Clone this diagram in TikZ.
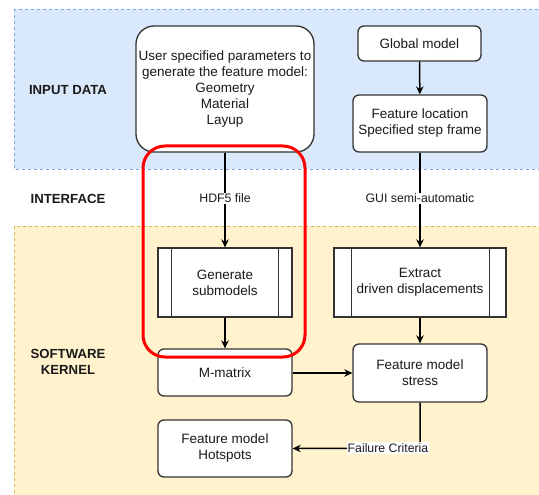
\documentclass[tikz,border=0pt]{standalone}
\usepackage{fontspec}
\setmainfont{Liberation Sans}
\usetikzlibrary{arrows.meta}
\definecolor{bluefill}{HTML}{DAE8FC}
\definecolor{blueline}{HTML}{7EA6E0}
\definecolor{yellowfill}{HTML}{FFF2CC}
\definecolor{yellowline}{HTML}{D6B656}
\definecolor{ink}{HTML}{1A1A1A}
\definecolor{boxline}{HTML}{333333}
\tikzset{
  box/.style={draw=boxline, fill=white, line width=1.3pt, rounded corners=6pt,
    align=center, inner sep=0pt, text=ink,
    font=\fontsize{13.5}{16}\selectfont},
  procbox/.style={box, rounded corners=0pt},
  flow/.style={draw=black, line width=1.5pt, -{Stealth[length=8pt,width=7.5pt]}},
  edgelabel/.style={fill=white, inner sep=1pt, text=ink, font=\fontsize{12.3}{14}\selectfont},
  section/.style={align=center, text=ink, font=\bfseries\fontsize{13.2}{16}\selectfont},
}
\begin{document}
\begin{tikzpicture}[x=1pt, y=-1pt]
\useasboundingbox (0,0) rectangle (539,495);
\begin{scope}
\clip (0,0) rectangle (539,495);
% swimlane backgrounds
\draw[fill=bluefill, draw=blueline, dashed, line width=0.8pt] (14,9) rectangle (560,169);
\draw[fill=yellowfill, draw=yellowline, dashed, line width=0.8pt] (14,226) rectangle (560,520);
\end{scope}

% lane titles
\node[section] (lin) at (68,90) {INPUT DATA};
\node[section] (lif) at (68,199) {INTERFACE};
\node[section] (lsk) at (68,362) {SOFTWARE\\KERNEL};

% nodes
\node[box, rounded corners=18pt, minimum width=178pt, minimum height=126pt] (user) at (225,89)
  {User specified parameters to\\generate the feature model:\\Geometry\\Material\\Layup};
\node[box, minimum width=123pt, minimum height=35pt] (global) at (419.5,43.5) {Global model};
\node[box, minimum width=134pt, minimum height=57pt] (floc) at (420,123.5) {Feature location\\Specified step frame};
\node[procbox, minimum width=134pt, minimum height=69pt] (gen) at (225,282.5) {Generate\\submodels};
\node[procbox, minimum width=172pt, minimum height=69pt] (extr) at (420,282.5) {Extract\\driven displacements};
\node[box, minimum width=134pt, minimum height=47pt] (mmat) at (225,372.5) {M-matrix};
\node[box, minimum width=134pt, minimum height=58pt] (stress) at (420,373) {Feature model\\stress};
\node[box, minimum width=134pt, minimum height=57pt] (hot) at (225,448.5) {Feature model\\Hotspots};

% side bars of the process boxes
\draw[boxline, line width=1.3pt] ([xshift=14pt]gen.north west) -- ([xshift=14pt]gen.south west);
\draw[boxline, line width=1.3pt] ([xshift=-14pt]gen.north east) -- ([xshift=-14pt]gen.south east);
\draw[boxline, line width=1.3pt] ([xshift=18pt]extr.north west) -- ([xshift=18pt]extr.south west);
\draw[boxline, line width=1.3pt] ([xshift=-17pt]extr.north east) -- ([xshift=-17pt]extr.south east);

% connectors
\draw[flow] (user.south) -- node[edgelabel, pos=0.48] {HDF5 file} (gen.north);
\draw[flow] (global) -- (floc);
\draw[flow] (floc.south) -- node[edgelabel, pos=0.48] {GUI semi-automatic} (extr.north);
\draw[flow] (gen) -- (mmat);
\draw[flow] (extr) -- (stress);
\draw[flow] (mmat.east |- stress.west) -- (stress.west);
\coordinate (fc) at (420,448);
\draw[flow] (stress.south) -- (fc) -- (hot.east);
\node[edgelabel] (fclabel) at (388,448) {Failure Criteria};

% highlight
\draw[red, line width=3pt, rounded corners=22pt] (143,146) rectangle (305,357);
\end{tikzpicture}
\end{document}
